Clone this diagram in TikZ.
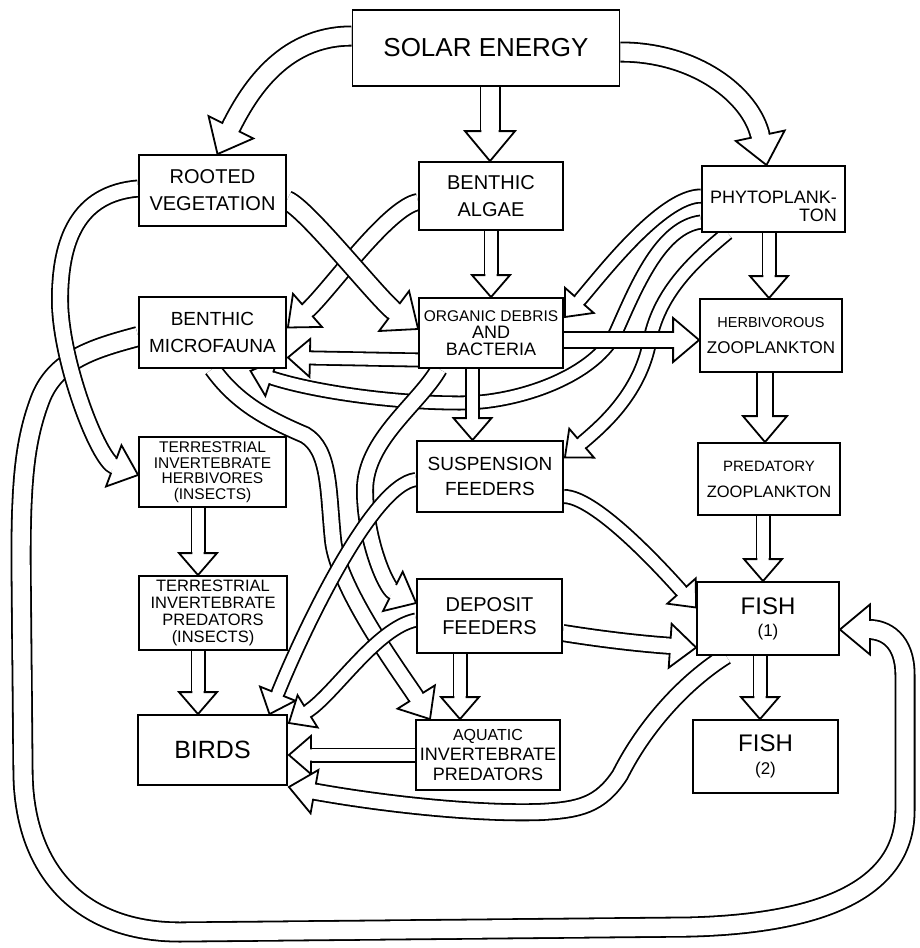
\documentclass[tikz,border=0pt]{standalone}
\usepackage{fontspec}
\setmainfont{Liberation Sans}
\usetikzlibrary{calc,decorations.markings}
\newcommand\fsz[2]{\fontsize{#1}{#2}\selectfont}
\pgfdeclarelayer{fg}
\pgfsetlayers{main,fg}
\tikzset{
  box/.style={draw=black, line width=1.8pt, fill=white, inner sep=1pt, align=center},
  fathead/.style n args={3}{postaction={decorate, decoration={markings,
      mark=at position 0.99999 with {
        \fill[white, shorten >=0pt, shorten <=0pt] (0pt,0pt) -- (-#2pt,#3pt) -- (-#2pt,-#3pt) -- cycle;
        \draw[black, line width=1.8pt, line join=miter, line cap=butt, shorten >=0pt, shorten <=0pt]
          (-#2pt,#1pt) -- (-#2pt,#3pt) -- (0pt,0pt) -- (-#2pt,-#3pt) -- (-#2pt,-#1pt);
      }}}},
  fatS/.style={preaction={draw=black, line width=15pt, shorten >=21pt},
     draw=white, line width=11.4pt, shorten >=21pt, fathead={5.7}{22}{19}},
  fatM/.style={preaction={draw=black, line width=18pt, shorten >=25pt},
     draw=white, line width=14.4pt, shorten >=25pt, fathead={7.2}{26}{22}},
  fatL/.style={preaction={draw=black, line width=21pt, shorten >=29pt},
     draw=white, line width=17.4pt, shorten >=29pt, fathead={8.7}{30}{25}},
}
\begin{document}
\begin{tikzpicture}[x=1pt, y=-1pt]
\useasboundingbox (0,0) rectangle (919,948);
\fill[white] (0,0) rectangle (919,948);

\begin{pgfonlayer}{fg}
\node[box, minimum width=267pt, minimum height=76pt, font=\fsz{26}{28}] (solar) at (486,48) {SOLAR ENERGY};
\node[box, minimum width=147pt, minimum height=71pt, font=\fsz{20}{27}] (rooted) at (212.5,190.5) {ROOTED\\VEGETATION};
\node[box, minimum width=144pt, minimum height=68pt, font=\fsz{20}{27}] (algae) at (491,196) {BENTHIC\\ALGAE};
\node[box, minimum width=143pt, minimum height=66pt, font=\fsz{18}{18}, align=right] (phyto) at (773.5,199) {\rule{0pt}{28pt}PHYTOPLANK-\\TON};
\node[box, minimum width=147pt, minimum height=71pt, font=\fsz{19}{27}] (micro) at (212.5,332.5) {BENTHIC\\MICROFAUNA};
\node[box, minimum width=144pt, minimum height=70pt, font=\fsz{18}{17}] (organic) at (491,333) {{\fsz{15.5}{17}ORGANIC DEBRIS}\\AND\\BACTERIA};
\node[box, minimum width=142pt, minimum height=73pt, font=\fsz{17}{26}] (herb) at (771,335.5) {{\fsz{14.5}{26}HERBIVOROUS}\\ZOOPLANKTON};
\node[box, minimum width=147pt, minimum height=70pt, font=\fsz{15.5}{15.5}] (terrherb) at (212.5,472) {TERRESTRIAL\\INVERTEBRATE\\HERBIVORES\\(INSECTS)};
\node[box, minimum width=146pt, minimum height=71pt, font=\fsz{19}{25}] (susp) at (490,476.5) {SUSPENSION\\FEEDERS};
\node[box, minimum width=142pt, minimum height=72pt, font=\fsz{16.5}{26}] (pred) at (769,479) {{\fsz{15}{26}PREDATORY}\\ZOOPLANKTON};
\node[box, minimum width=148pt, minimum height=74pt, font=\fsz{16.5}{17}] (terrpred) at (213,613) {TERRESTRIAL\\INVERTEBRATE\\PREDATORS\\(INSECTS)};
\node[box, minimum width=145pt, minimum height=74pt, font=\fsz{20}{23}] (deposit) at (489.5,616) {DEPOSIT\\FEEDERS};
\node[box, minimum width=142pt, minimum height=73pt, font=\fsz{17}{22}] (fishA) at (768,618.5) {{\fsz{24}{22}FISH}\\(1)};
\node[box, minimum width=149pt, minimum height=70pt, font=\fsz{25}{26}] (birds) at (212.5,750) {BIRDS};
\node[box, minimum width=144pt, minimum height=70pt, font=\fsz{18}{20}] (aquatic) at (488,755) {{\fsz{16}{20}AQUATIC}\\INVERTEBRATE\\PREDATORS};
\node[box, minimum width=145pt, minimum height=73pt, font=\fsz{17}{23}] (fishB) at (765.5,756.5) {{\fsz{24}{23}FISH}\\(2)};
\end{pgfonlayer}

% big loop: benthic microfauna -> fish (1)
\draw[fatL] ($(micro.west)+(0,4)$) .. controls +(-45,12) and +(15,-40) .. (40,400)
   .. controls +(-15,40) and +(0,-80) .. (21,560) -- (23,770)
   .. controls +(0,100) and +(-100,0) .. (180,932) -- (690,927)
   .. controls +(150,-4) and +(0,70) .. (905,810) -- (905,675)
   .. controls +(0,-35) and +(45,0) .. ($(fishA.east)+(0,11)$);

% rooted vegetation -> terrestrial herbivores
\draw[fatM] ($(rooted.west)+(0,-2)$) .. controls +(-60,5) and +(0,-60) .. (60,300)
   .. controls +(0,60) and +(-40,-15) .. ($(terrherb.west)+(0,3)$);

% benthic algae -> benthic microfauna
\draw[fatM] ($(algae.west)+(0,6)$) .. controls +(-30,5) and +(40,-35) .. ($(micro.east)+(1,-5)$);
% rooted vegetation -> organic debris
\draw[fatL] ($(rooted.east)+(0,10)$) .. controls +(20,8) and +(-40,-30) .. ($(organic.west)+(0,-4)$);

% solar energy arrows
\draw[fatL] ($(solar.west)+(0,-12)$) .. controls +(-70,0) and +(30,-60) .. ($(rooted.north)+(5,0)$);
\draw[fatL] ($(solar.south)+(4,0)$) -- ($(algae.north)+(-1,0)$);
\draw[fatL] ($(solar.east)+(0,4)$) .. controls +(75,0) and +(-15,-70) .. ($(phyto.north)+(-7,0)$);

% phytoplankton arrows
\draw[fatS] ($(phyto.west)+(0,23)$) .. controls +(-40,5) and +(20,-45) .. (617,330)
   .. controls +(-20,45) and +(60,0) .. (460,403)
   .. controls +(-70,0) and +(60,20) .. ($(micro.south)+(38,2)$);
\draw[fatS] ($(phyto.south)+(-46,0)$) .. controls +(-30,25) and +(10,-50) .. (650,340)
   .. controls +(-10,55) and +(35,-30) .. ($(susp.east)+(1,-19)$);
\draw[fatS] ($(phyto.west)+(0,-3)$) .. controls +(-40,0) and +(35,-40) .. ($(organic.east)+(1,-16)$);
\draw[fatS] ($(phyto.south)+(-4.5,0)$) -- ($(herb.north)+(-2,0)$);

% organic debris -> herbivorous zooplankton
\draw[fatM] ($(organic.east)+(0,7)$) -- ($(herb.west)+(0,4.5)$);
% algae -> organic debris
\draw[fatS] (algae.south) -- (organic.north);
% organic debris -> benthic microfauna
\draw[fatS] ($(organic.west)+(0,27)$) -- ($(micro.east)+(1,25)$);

% zooplankton chain
\draw[fatM] ($(herb.south)+(-6,0)$) -- ($(pred.north)+(-4,0)$);
\draw[fatS] ($(pred.south)+(-6,0)$) -- ($(fishA.north)+(-5,0)$);
\draw[fatS] ($(fishA.south)+(-8,0)$) -- ($(fishB.north)+(-5.5,0)$);

% microfauna -> aquatic invertebrate predators
\draw[fatM] (micro.south) .. controls +(25,35) and +(-35,-15) .. (305,435)
   .. controls +(25,15) and +(-5,-50) .. (333,540)
   .. controls +(5,50) and +(-25,-40) .. ($(aquatic.north)+(-58,0)$);
% organic debris -> deposit feeders
\draw[fatM] ($(organic.south)+(-52,0)$) .. controls +(-20,35) and +(0,-50) .. (365,490)
   .. controls +(0,50) and +(-30,-15) .. ($(deposit.west)+(0,-13)$);
% organic debris -> suspension feeders
\draw[fatS] ($(organic.south)+(-18.5,0)$) -- ($(susp.north)+(-17.5,0)$);
% suspension feeders -> birds
\draw[fatS] ($(susp.west)+(0,3)$) .. controls +(-45,5) and +(30,-75) .. ($(birds.north)+(57,0)$);
% deposit feeders -> birds
\draw[fatS] ($(deposit.west)+(0,4)$) .. controls +(-40,8) and +(45,-28) .. ($(birds.east)+(1,-27)$);

% to fish (1)
\draw[fatS] ($(susp.east)+(0,20)$) .. controls +(30,0) and +(-40,-45) .. ($(fishA.west)+(0,-11)$);
\draw[fatM] ($(deposit.east)+(0,17)$) .. controls +(50,8) and +(-45,-3) .. ($(fishA.west)+(0,29)$);

% terrestrial chain
\draw[fatS] ($(terrherb.south)+(-14.5,0)$) -- ($(terrpred.north)+(-15,0)$);
\draw[fatS] ($(terrpred.south)+(-15,0)$) -- ($(birds.north)+(-14.5,0)$);

% deposit -> aquatic
\draw[fatS] ($(deposit.south)+(-29.5,0)$) -- ($(aquatic.north)+(-28,0)$);
% aquatic -> birds
\draw[fatS] (aquatic.west) -- ($(birds.east)+(1,5)$);
% fish (1) -> birds
\draw[fatM] ($(fishA.south)+(-42,0)$) .. controls +(-40,25) and +(25,-50) .. (620,775)
   .. controls +(-20,30) and +(40,-2) .. (540,812)
   .. controls +(-60,2) and +(100,18) .. ($(birds.east)+(1,37)$);
\end{tikzpicture}
\end{document}
